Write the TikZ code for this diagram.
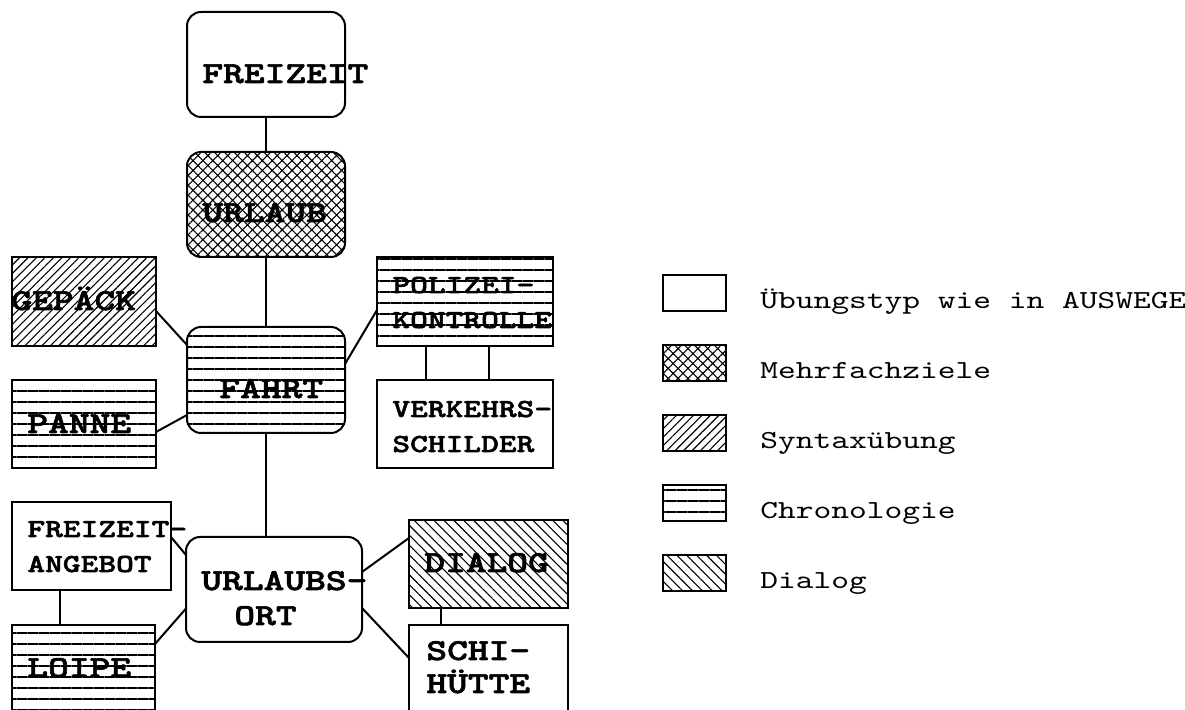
\documentclass[tikz,border=0pt]{standalone}
\usepackage{fontspec}
\newfontfamily\nodefont{lmmonolt10-bold}[Extension=.otf, FakeStretch=1.3, FakeBold=2]
\newfontfamily\legfont{lmmono10-regular}[Extension=.otf, FakeStretch=1.3]
\usetikzlibrary{patterns.meta}
\tikzset{
  box/.style={draw, line width=1pt, inner sep=0pt, outer sep=0pt},
  rbox/.style={box, rounded corners=7pt},
  chrono/.style={pattern={Lines[angle=0,distance=5.5pt,line width=0.6pt]}},
  syntax/.style={pattern={Lines[angle=45,distance=3pt,line width=0.55pt]}},
  dialogpat/.style={pattern={Lines[angle=-45,distance=3.5pt,line width=0.55pt]}},
  multi/.style={pattern={Hatch[angle=45,distance=3.5pt,line width=0.55pt]}},
  bigtxt/.style={inner sep=0pt, anchor=base west, font=\fontsize{15.2}{18}\nodefont},
  smalltxt/.style={inner sep=0pt, anchor=base west, font=\fontsize{13}{16}\nodefont},
  legtxt/.style={inner sep=0pt, anchor=base west, font=\fontsize{13}{16}\legfont},
  conn/.style={line width=1pt},
  leg/.style={box, minimum width=31.5pt, minimum height=18pt}
}
\begin{document}
\begin{tikzpicture}[x=0.5pt,y=-0.5pt]
\useasboundingbox (0,0) rectangle (1185,710);
\clip (0,0) rectangle (1185,710);

% boxes
\node[rbox, minimum width=79pt, minimum height=52.5pt] (fz) at (266,64.5) {};
\node[rbox, multi, minimum width=79pt, minimum height=52.5pt] (url) at (266,204.5) {};
\node[rbox, chrono, minimum width=79pt, minimum height=53pt] (fahrt) at (266,380) {};
\node[box, syntax, minimum width=72pt, minimum height=44.5pt] (gep) at (84,301.5) {};
\node[box, chrono, minimum width=72pt, minimum height=44pt] (pan) at (84,424) {};
\node[box, chrono, minimum width=88pt, minimum height=44.5pt] (pol) at (465,301.5) {};
\node[box, minimum width=88pt, minimum height=44pt] (ver) at (465,424) {};
\node[rbox, minimum width=88pt, minimum height=52.5pt] (uo) at (274,589.5) {};
\node[box, minimum width=79.5pt, minimum height=44pt] (fa) at (91.5,546) {};
\node[box, chrono, minimum width=71.5pt, minimum height=45pt] (loi) at (83.5,670) {};
\node[box, dialogpat, minimum width=79.5pt, minimum height=44pt] (dia) at (488.5,564) {};
\node[box, minimum width=79.5pt, minimum height=45pt] (sch) at (488.5,670) {};

% texts
\node[bigtxt] (tfz) at (202,83) {FREIZEIT};
\node[bigtxt] (turl) at (202,222) {URLAUB};
\node[bigtxt] (tfahrt) at (219,398) {FAHRT};
\node[bigtxt] (tgep) at (11,310) {GEPÄCK};
\node[bigtxt] (tpan) at (27,433) {PANNE};
\node[smalltxt] (tpol1) at (392,293) {POLIZEI-};
\node[smalltxt] (tpol2) at (392,328) {KONTROLLE};
\node[smalltxt] (tver1) at (392,417) {VERKEHRS-};
\node[smalltxt] (tver2) at (392,452) {SCHILDER};
\node[smalltxt] (tfa1) at (27,537) {FREIZEIT-};
\node[smalltxt] (tfa2) at (27,572) {ANGEBOT};
\node[bigtxt] (tuo1) at (201,590) {URLAUBS-};
\node[bigtxt] (tuo2) at (234,625) {ORT};
\node[bigtxt] (tloi) at (27,677) {LOIPE};
\node[bigtxt] (tdia) at (424,572) {DIALOG};
\node[bigtxt] (tsch1) at (426,660) {SCHI-};
\node[bigtxt] (tsch2) at (426,693) {HÜTTE};

% connectors
\draw[conn] (fz.south) -- (url.north);
\draw[conn] (url.south) -- (fahrt.north);
\draw[conn] (fahrt.south) -- (fahrt.south |- uo.north);
\draw[conn] ([shift={(0,9.5)}]gep.east) -- ([shift={(0,-35)}]fahrt.west);
\draw[conn] ([shift={(0,8)}]pan.east) -- ([shift={(0,35)}]fahrt.west);
\draw[conn] ([shift={(0,-16)}]fahrt.east) -- ([shift={(0,8.5)}]pol.west);
\draw[conn] ([shift={(-39,0)}]pol.south) -- ([shift={(-39,0)}]ver.north);
\draw[conn] ([shift={(24,0)}]pol.south) -- ([shift={(24,0)}]ver.north);
\draw[conn] ([shift={(0,-9)}]fa.east) -- ([shift={(0,-34.5)}]uo.west);
\draw[conn] ([shift={(-31.5,0)}]fa.south) -- ([shift={(-31.5,0)}]fa.south |- loi.north);
\draw[conn] ([shift={(0,-26)}]loi.east) -- ([shift={(0,19)}]uo.west);
\draw[conn] ([shift={(0,-17.5)}]uo.east) -- ([shift={(0,-26)}]dia.west);
\draw[conn] ([shift={(0,18.5)}]uo.east) -- ([shift={(0,-12)}]sch.west);
\draw[conn] ([shift={(-47.5,0)}]dia.south) -- ([shift={(-47.5,0)}]sch.north);

% legend
\node[leg] (lg1) at (694.5,293) {};
\node[leg, multi] (lg2) at (694.5,363) {};
\node[leg, syntax] (lg3) at (694.5,433) {};
\node[leg, chrono] (lg4) at (694.5,503) {};
\node[leg, dialogpat] (lg5) at (694.5,573) {};
\node[legtxt] (lt1) at (760,309) {Übungstyp wie in AUSWEGE};
\node[legtxt] (lt2) at (760,379) {Mehrfachziele};
\node[legtxt] (lt3) at (760,449) {Syntaxübung};
\node[legtxt] (lt4) at (760,519) {Chronologie};
\node[legtxt] (lt5) at (760,589) {Dialog};
\end{tikzpicture}
\end{document}
